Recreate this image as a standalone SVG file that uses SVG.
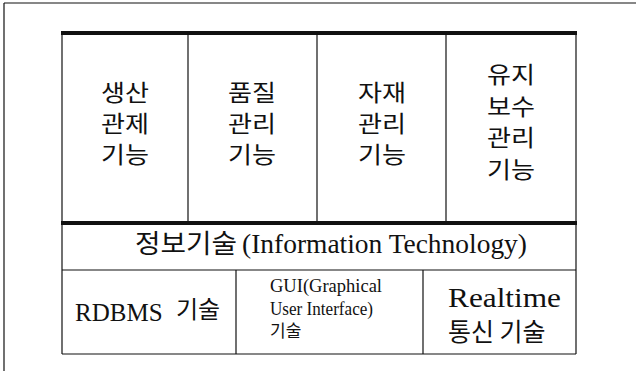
<svg xmlns="http://www.w3.org/2000/svg" width="636" height="371" viewBox="0 0 636 371">
<style>
.ln{stroke:#111;stroke-width:1.2;fill:none}
.thick{stroke:#111;stroke-width:4;fill:none}
.kr{font-family:"Noto Sans CJK KR","Noto Sans",sans-serif;fill:#111}
.sf{font-family:"Liberation Serif","Times New Roman",serif;fill:#111}
.col{font-size:23px;text-anchor:middle}
</style>
<rect width="636" height="371" fill="#fff"/>
<g id="frame">
<line class="ln" x1="4" y1="3" x2="636" y2="3"/>
<line class="ln" x1="4" y1="3" x2="4" y2="371"/>
</g>
<g id="grid">
<line class="thick" x1="61" y1="33" x2="577" y2="33"/>
<line class="ln" x1="62" y1="33" x2="62" y2="354"/>
<line class="ln" x1="576" y1="33" x2="576" y2="354"/>
<line class="ln" x1="188" y1="33" x2="188" y2="223"/>
<line class="ln" x1="317" y1="33" x2="317" y2="223"/>
<line class="ln" x1="446" y1="33" x2="446" y2="223"/>
<line class="thick" x1="61" y1="223" x2="577" y2="223"/>
<line class="ln" x1="62" y1="270" x2="576" y2="270"/>
<line class="ln" x1="236" y1="270" x2="236" y2="354"/>
<line class="ln" x1="423" y1="270" x2="423" y2="354"/>
<line class="ln" x1="62" y1="354" x2="576" y2="354"/>
</g>
<g id="production">
<text class="kr col" x="125" y="101" textLength="48" lengthAdjust="spacingAndGlyphs">생산</text>
<text class="kr col" x="125" y="132" textLength="48" lengthAdjust="spacingAndGlyphs">관제</text>
<text class="kr col" x="125" y="163" textLength="48" lengthAdjust="spacingAndGlyphs">기능</text>
</g>
<g id="quality">
<text class="kr col" x="252" y="101" textLength="48" lengthAdjust="spacingAndGlyphs">품질</text>
<text class="kr col" x="252" y="132" textLength="48" lengthAdjust="spacingAndGlyphs">관리</text>
<text class="kr col" x="252" y="163" textLength="48" lengthAdjust="spacingAndGlyphs">기능</text>
</g>
<g id="material">
<text class="kr col" x="382" y="101" textLength="48" lengthAdjust="spacingAndGlyphs">자재</text>
<text class="kr col" x="382" y="132" textLength="48" lengthAdjust="spacingAndGlyphs">관리</text>
<text class="kr col" x="382" y="163" textLength="48" lengthAdjust="spacingAndGlyphs">기능</text>
</g>
<g id="maintenance">
<text class="kr col" x="511" y="83" textLength="48" lengthAdjust="spacingAndGlyphs">유지</text>
<text class="kr col" x="511" y="115" textLength="48" lengthAdjust="spacingAndGlyphs">보수</text>
<text class="kr col" x="511" y="146" textLength="48" lengthAdjust="spacingAndGlyphs">관리</text>
<text class="kr col" x="511" y="178" textLength="48" lengthAdjust="spacingAndGlyphs">기능</text>
</g>
<g id="it">
<text class="kr" x="135" y="253" font-size="26" textLength="102" lengthAdjust="spacingAndGlyphs">정보기술</text>
<text class="sf" x="242" y="253" font-size="27" textLength="285" lengthAdjust="spacingAndGlyphs">(Information Technology)</text>
</g>
<g id="rdbms">
<text class="sf" x="75" y="321" font-size="25">RDBMS</text>
<text class="kr" x="176" y="318" font-size="24">기술</text>
</g>
<g id="gui">
<text class="sf" x="270" y="292" font-size="18" textLength="112" lengthAdjust="spacingAndGlyphs">GUI(Graphical</text>
<text class="sf" x="270" y="315" font-size="18" textLength="103" lengthAdjust="spacingAndGlyphs">User Interface)</text>
<text class="kr" x="270" y="337" font-size="17">기술</text>
</g>
<g id="realtime">
<text class="sf" x="448" y="307" font-size="28" textLength="113" lengthAdjust="spacingAndGlyphs">Realtime</text>
<text class="kr" x="448" y="341" font-size="25">통신 기술</text>
</g>
</svg>
